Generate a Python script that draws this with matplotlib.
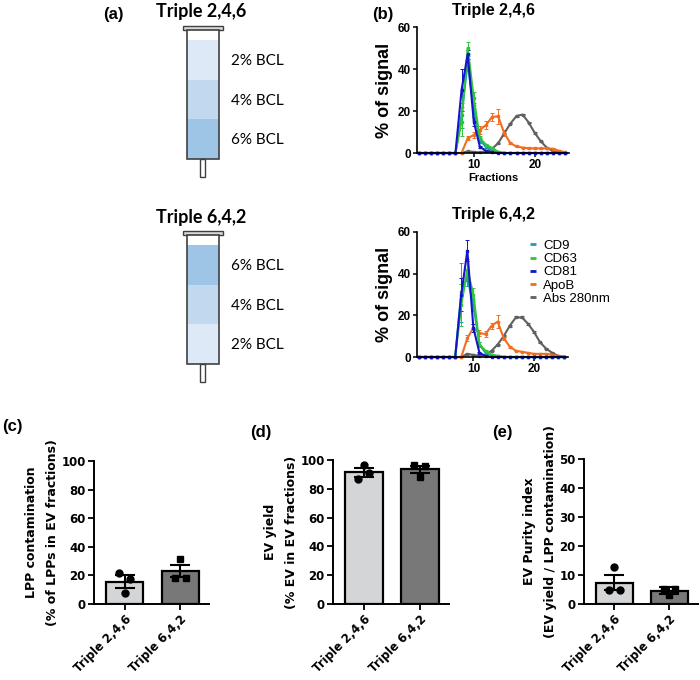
import numpy as np
import matplotlib
matplotlib.use('Agg')
import matplotlib.pyplot as plt
from matplotlib.patches import Rectangle
from matplotlib.lines import Line2D

plt.rcParams['font.family'] = ['Liberation Sans', 'DejaVu Sans']

#%% data
fractions = list(range(1, 26))

# Triple 2,4,6
cd9_246 = [0, 0, 0, 0, 0, 0, 0, 18, 43, 21, 6, 3, 1.5, 0.5, 0, 0, 0, 0, 0, 0, 0, 0, 0, 0, 0]
cd63_246 = [0, 0, 0, 0, 0, 0, 0, 15, 50, 26, 7, 4, 2.4, 0.5, 0, 0, 0, 0, 0, 0, 0, 0, 0, 0, 0]
cd81_246 = [0, 0, 0, 0, 0, 0, 0, 30, 47, 15, 3, 1, 0.3, 0, 0, 0, 0, 0, 0, 0, 0, 0, 0, 0, 0]
apob_246 = [0, 0, 0, 0, 0, 0, 0, 0, 7, 8.6, 11, 13.3, 17.2, 17.4, 9.4, 4.7, 3.1, 2.6, 2.3, 2.2, 2.2, 2.2, 2, 1, 0.4]
abs_246 = [0, 0, 0, 0, 0, 0, 0, 0, 0.8, 0.5, 0.3, 0.8, 2, 4.7, 9.4, 14, 17.6, 18.3, 14.5, 9.5, 5.5, 2.4, 1, 0.3, 0]
cd9_246_err = [0, 0, 0, 0, 0, 0, 0, 6, 3, 3, 1, 0.5, 0, 0, 0, 0, 0, 0, 0, 0, 0, 0, 0, 0, 0]
cd63_246_err = [0, 0, 0, 0, 0, 0, 0, 7, 3, 3, 1, 0.5, 0, 0, 0, 0, 0, 0, 0, 0, 0, 0, 0, 0, 0]
cd81_246_err = [0, 0, 0, 0, 0, 0, 0, 10, 2, 2, 0.5, 0, 0, 0, 0, 0, 0, 0, 0, 0, 0, 0, 0, 0, 0]
apob_246_err = [0, 0, 0, 0, 0, 0, 0, 0, 1, 1.5, 2, 2, 2, 3.5, 1.5, 0.5, 0.3, 0.3, 0.2, 0.2, 0.2, 0.2, 0.2, 0.2, 0]
abs_246_err = [0, 0, 0, 0, 0, 0, 0, 0, 0.2, 0.1, 0.1, 0.1, 0.2, 0.3, 0.3, 0.4, 0.4, 0.4, 0.4, 0.3, 0.3, 0.2, 0.1, 0, 0]

# Triple 6,4,2
cd9_642 = [0, 0, 0, 0, 0, 0, 0, 31, 38, 25, 6, 2, 1, 0.5, 0, 0, 0, 0, 0, 0, 0, 0, 0, 0, 0]
cd63_642 = [0, 0, 0, 0, 0, 0, 0, 25, 42, 30, 6, 3, 1, 0.5, 0, 0, 0, 0, 0, 0, 0, 0, 0, 0, 0]
cd81_642 = [0, 0, 0, 0, 0, 0, 0, 30, 51, 14, 2, 0.5, 0, 0, 0, 0, 0, 0, 0, 0, 0, 0, 0, 0, 0]
apob_642 = [0, 0, 0, 0, 0, 0, 0, 0, 9, 14, 11.5, 11, 15, 17, 9, 5, 3, 2.5, 2, 1.5, 1.5, 1.5, 1, 0.5, 0.2]
abs_642 = [0, 0, 0, 0, 0, 0, 0, 0, 1.5, 1, 0.5, 1, 3, 6, 10, 15, 19, 19, 16, 12, 7, 4, 2, 0.5, 0]
cd9_642_err = [0, 0, 0, 0, 0, 0, 0, 14, 4, 3, 1, 0.5, 0, 0, 0, 0, 0, 0, 0, 0, 0, 0, 0, 0, 0]
cd63_642_err = [0, 0, 0, 0, 0, 0, 0, 10, 5, 3, 1, 0.5, 0, 0, 0, 0, 0, 0, 0, 0, 0, 0, 0, 0, 0]
cd81_642_err = [0, 0, 0, 0, 0, 0, 0, 8, 5, 2, 0.5, 0, 0, 0, 0, 0, 0, 0, 0, 0, 0, 0, 0, 0, 0]
apob_642_err = [0, 0, 0, 0, 0, 0, 0, 0, 1.5, 2, 1.5, 1.5, 1.5, 3, 1, 0.5, 0.3, 0.3, 0.2, 0.2, 0.2, 0.2, 0.2, 0.2, 0]
abs_642_err = [0, 0, 0, 0, 0, 0, 0, 0, 0.3, 0.2, 0.1, 0.1, 0.2, 0.3, 0.4, 0.5, 0.5, 0.5, 0.5, 0.4, 0.3, 0.3, 0.2, 0.1, 0]

markers_names = ['CD9', 'CD63', 'CD81', 'ApoB', 'Abs 280nm']
marker_colors = ['#1f9bb5', '#2fc43a', '#1515c8', '#f06e22', '#606060']

# gradient layers
layers_246 = ['2% BCL', '4% BCL', '6% BCL']
layers_642 = ['6% BCL', '4% BCL', '2% BCL']
layer_colors = {'2% BCL': '#dde9f6', '4% BCL': '#c1d8ef', '6% BCL': '#9ec4e6'}

# bar panels
groups = ['Triple 2,4,6', 'Triple 6,4,2']
lpp_mean = [15.6, 23.0]
lpp_sem = [4.4, 4.3]
lpp_points = [[21.4, 7.9, 17.5], [18.4, 31.7, 18.4]]
yield_mean = [91.5, 93.5]
yield_sem = [3.0, 2.5]
yield_points = [[87, 96.5, 91], [96.5, 88, 96]]
purity_mean = [7.4, 4.6]
purity_sem = [2.6, 1.1]
purity_points = [[4.8, 12.7, 4.8], [5.3, 3.1, 5.3]]
bar_colors = ['#d3d5d7', '#787878']

#%% figure
W, H = 700, 680
fig = plt.figure(figsize=(7, 6.8), dpi=100)


def px(x0, y0, x1, y1):
    return [x0 / W, 1 - y1 / H, (x1 - x0) / W, (y1 - y0) / H]


bg = fig.add_axes([0, 0, 1, 1])
bg.set_xlim(0, W)
bg.set_ylim(H, 0)
bg.axis('off')


def draw_tube(top, title, layers):
    bg.text(201, top - 18, title, ha='center', va='center', fontsize=13,
            fontweight='bold', family=['Lato', 'DejaVu Sans'])
    bg.add_patch(Rectangle((183, top - 4), 40, 4, fc='#d9d9d9', ec='#404040', lw=1))
    bg.add_patch(Rectangle((187, top), 32, 129, fc='white', ec='none'))
    for i, name in enumerate(layers):
        y = top + 10 + i * 39.7
        bg.add_patch(Rectangle((187, y), 32, 39.7, fc=layer_colors[name], ec='none'))
        bg.text(231, y + 21, name, ha='left', va='center', fontsize=11,
                family=['Lato', 'DejaVu Sans'])
    bg.add_patch(Rectangle((187, top), 32, 129, fc='none', ec='#404040', lw=1.2))
    bg.add_patch(Rectangle((200, top + 129), 5, 18, fc='white', ec='#404040', lw=1))


draw_tube(30, 'Triple 2,4,6', layers_246)
draw_tube(235, 'Triple 6,4,2', layers_642)


def signal_panel(rect, title, series, errs, xlabel=True):
    ax = fig.add_axes(px(*rect))
    for i in [4, 3, 0, 1, 2]:
        ax.errorbar(fractions, series[i], yerr=errs[i], color=marker_colors[i],
                    lw=1.5, marker='s', ms=1.6, capsize=1.2, elinewidth=0.7,
                    capthick=0.7, clip_on=False)
    ax.set_xlim(0.7, 25.6)
    ax.set_ylim(0, 60)
    ax.set_yticks([0, 20, 40, 60])
    ax.set_xticks([10, 20])
    ax.spines[['top', 'right']].set_visible(False)
    ax.spines[['left', 'bottom']].set_linewidth(1.2)
    ax.tick_params(length=3, width=1.1, labelsize=8.5, pad=1.5)
    for lab in ax.get_xticklabels() + ax.get_yticklabels():
        lab.set_fontweight('bold')
    fig.text(493 / W, 1 - (rect[1] - 17) / H, title, ha='center', va='center',
             fontsize=11.5, fontweight='bold')
    ax.set_ylabel('% of signal', fontsize=13, fontweight='bold', labelpad=3)
    if xlabel:
        ax.set_xlabel('Fractions', fontsize=8, fontweight='bold', labelpad=1)
    return ax


signal_panel((417, 27, 569, 153), 'Triple 2,4,6',
             [cd9_246, cd63_246, cd81_246, apob_246, abs_246],
             [cd9_246_err, cd63_246_err, cd81_246_err, apob_246_err, abs_246_err])
ax_b2 = signal_panel((417, 232, 568, 357), 'Triple 6,4,2',
                     [cd9_642, cd63_642, cd81_642, apob_642, abs_642],
                     [cd9_642_err, cd63_642_err, cd81_642_err, apob_642_err, abs_642_err],
                     xlabel=False)
handles = [Line2D([], [], color=c, marker='_', ls='none', ms=5, mew=2) for c in marker_colors]
ax_b2.legend(handles, markers_names, loc='upper left', bbox_to_anchor=(522 / W, 1 - 233 / H),
             bbox_transform=fig.transFigure, frameon=False, fontsize=9.5,
             handlelength=0.6, handletextpad=0.5, labelspacing=0.08, borderpad=0)


def bar_panel(rect, means, sems, points, ylim, step, ylabel):
    ax = fig.add_axes(px(*rect))
    x = np.arange(len(groups))
    ax.bar(x, means, width=0.67, color=bar_colors, edgecolor='black', lw=1.6, zorder=1)
    ax.errorbar(x, means, yerr=sems, fmt='none', ecolor='black', elinewidth=1.5,
                capsize=7, capthick=1.5, zorder=3)
    offsets = [-0.1, 0.0, 0.1]
    for i, pts in enumerate(points):
        mk = 'o' if i == 0 else 's'
        ax.plot(x[i] + np.array(offsets), pts, ls='none', marker=mk, ms=5,
                color='black', zorder=4, clip_on=False)
    ax.set_xlim(-0.55, 1.52)
    ax.set_ylim(0, ylim)
    ax.set_yticks(np.arange(0, ylim + 1, step))
    ax.set_xticks(x)
    ax.set_xticklabels(groups, rotation=45, ha='right', rotation_mode='anchor')
    ax.spines[['top', 'right']].set_visible(False)
    ax.spines[['left', 'bottom']].set_linewidth(1.4)
    ax.tick_params(length=4, width=1.3, labelsize=8.5, pad=2)
    for lab in ax.get_xticklabels() + ax.get_yticklabels():
        lab.set_fontweight('bold')
        lab.set_family('DejaVu Sans')
    ax.set_ylabel(ylabel, fontsize=9, fontweight='bold', family='DejaVu Sans',
                  linespacing=1.75, labelpad=2)
    return ax


bar_panel((94, 461, 209, 604), lpp_mean, lpp_sem, lpp_points, 100, 20,
          'LPP contamination\n(% of LPPs in EV fractions)')
bar_panel((333, 460, 449, 604), yield_mean, yield_sem, yield_points, 100, 20,
          'EV yield\n(% EV in EV fractions)')
bar_panel((584, 459, 698, 604), purity_mean, purity_sem, purity_points, 50, 10,
          'EV Purity index\n(EV yield / LPP contamination)')

# panel letters
for lx, ly, lab in [(113, 14, '(a)'), (383, 14, '(b)'), (12, 426, '(c)'),
                    (261, 433, '(d)'), (502, 433, '(e)')]:
    fig.text(lx / W, 1 - ly / H, lab, ha='center', va='center', fontsize=12,
             fontweight='bold')

fig.savefig('out.png', dpi=100)
